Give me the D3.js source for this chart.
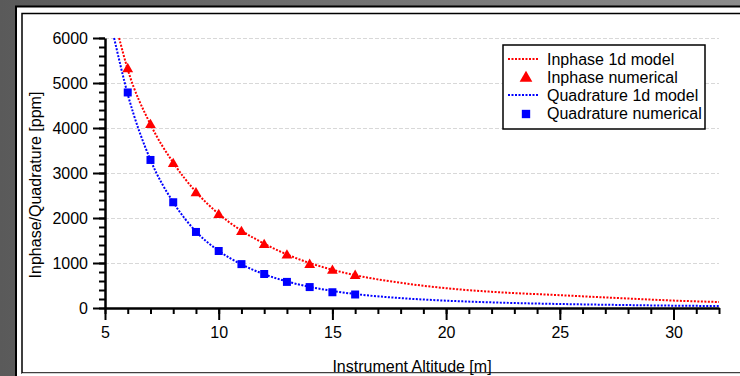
<!DOCTYPE html>
<html>
<head>
<meta charset="utf-8">
<script src="https://cdn.jsdelivr.net/npm/d3@7"></script>
<style>
  html, body { margin: 0; padding: 0; }
  body { width: 740px; height: 376px; overflow: hidden; }
  text { font-family: "Liberation Sans", Arial, sans-serif; fill: #000; }
</style>
</head>
<body>
<svg id="chart" width="740" height="376"></svg>
<script>
// measured points (altitude in m)
var numAlt = [6, 7, 8, 9, 10, 11, 12, 13, 14, 15, 16];
var inphaseNum = [5310, 4070, 3200, 2550, 2070, 1690, 1400, 1170, 960, 830, 715];
var quadNum = [4790, 3290, 2350, 1690, 1267, 975, 756, 580, 465, 350, 300];

// 1d model curves
var inphaseModelAlt = [5.62, 6, 7, 8, 9, 10, 11, 12, 13, 14, 15, 16, 18, 20, 22, 25, 28, 30, 32];
var inphaseModel = [6000, 5300, 4080, 3230, 2580, 2090, 1720, 1430, 1190, 1000, 850, 730, 560, 440, 360, 285, 210, 165, 133];
var quadModelAlt = [5.4, 6, 7, 8, 9, 10, 11, 12, 13, 14, 15, 16, 18, 20, 22, 25, 28, 30, 32];
var quadModel = [6000, 4750, 3290, 2350, 1700, 1270, 970, 750, 590, 470, 380, 310, 220, 163, 125, 89, 65, 52, 44];

var xTicks = [5, 10, 15, 20, 25, 30];
var yTicks = [0, 1000, 2000, 3000, 4000, 5000, 6000];

var legendItems = [
  { label: "Inphase 1d model", color: "#ff0000", type: "line" },
  { label: "Inphase numerical", color: "#ff0000", type: "triangle" },
  { label: "Quadrature 1d model", color: "#0000ff", type: "line" },
  { label: "Quadrature numerical", color: "#0000ff", type: "square" }
];

var svg = d3.select("#chart");

// window background + frame
var defs = svg.append("defs");
var grad = defs.append("linearGradient").attr("id", "bg").attr("x1", "0").attr("y1", "0").attr("x2", "1").attr("y2", "0");
grad.append("stop").attr("offset", "0").attr("stop-color", "#5a5a5a");
grad.append("stop").attr("offset", "1").attr("stop-color", "#8c8c8c");
svg.append("rect").attr("width", 740).attr("height", 376).attr("fill", "url(#bg)");
svg.append("rect").attr("x", 16).attr("y", 6.5).attr("width", 740).attr("height", 380)
  .attr("fill", "#fff").attr("stroke", "#000").attr("stroke-width", 2);
svg.append("rect").attr("x", 22).attr("y", 13.5).attr("width", 740).attr("height", 359.5)
  .attr("fill", "#fff").attr("stroke", "#000").attr("stroke-width", 1.5);
svg.append("line").attr("x1", 22).attr("x2", 740).attr("y1", 373.5).attr("y2", 373.5)
  .attr("stroke", "#d0d0d0").attr("stroke-width", 1);
svg.append("rect").attr("x", 22.75).attr("y", 374).attr("width", 740).attr("height", 2).attr("fill", "#fff");

var x = d3.scaleLinear().domain([5, 32]).range([105, 719]);
var y = d3.scaleLinear().domain([0, 6000]).range([308, 38]);

var g = svg.append("g");

// horizontal grid
g.append("g").selectAll("line")
  .data(yTicks.filter(function (d) { return d > 0; }))
  .enter().append("line")
  .attr("x1", x(5)).attr("x2", x(32))
  .attr("y1", function (d) { return Math.round(y(d)) + 0.5; })
  .attr("y2", function (d) { return Math.round(y(d)) + 0.5; })
  .attr("stroke", "#d8d8d8").attr("stroke-width", 1).attr("stroke-dasharray", "4,2");

// minor ticks
var xMinor = d3.range(5, 33, 1);
var yMinor = d3.range(0, 6001, 200);

g.append("g").attr("transform", "translate(0," + y(0) + ")")
  .call(d3.axisBottom(x).tickValues(xMinor).tickSize(6).tickFormat(""))
  .call(function (a) { a.select(".domain").remove(); a.selectAll("line").attr("stroke-width", 2); });
g.append("g").attr("transform", "translate(" + x(5) + ",0)")
  .call(d3.axisLeft(y).tickValues(yMinor).tickSize(6).tickFormat(""))
  .call(function (a) { a.select(".domain").remove(); a.selectAll("line").attr("stroke-width", 2); });

// major ticks + labels
var xAxis = g.append("g").attr("transform", "translate(0," + y(0) + ")")
  .call(d3.axisBottom(x).tickValues(xTicks).tickSize(12).tickPadding(7).tickSizeOuter(0).tickFormat(d3.format("d")));
xAxis.selectAll("line").attr("stroke-width", 2);
xAxis.select(".domain").attr("stroke-width", 2.5);
xAxis.selectAll("text").attr("font-size", "16px").style("font-family", "Liberation Sans, Arial, sans-serif");

var yAxis = g.append("g").attr("transform", "translate(" + x(5) + ",0)")
  .call(d3.axisLeft(y).tickValues(yTicks).tickSize(12).tickPadding(5).tickSizeOuter(0).tickFormat(d3.format("d")));
yAxis.selectAll("line").attr("stroke-width", 2);
yAxis.select(".domain").attr("stroke-width", 2.5);
yAxis.selectAll("text").attr("font-size", "16px").style("font-family", "Liberation Sans, Arial, sans-serif");

// axis titles
svg.append("text").attr("x", 412).attr("y", 372).attr("text-anchor", "middle")
  .attr("font-size", "16px").text("Instrument Altitude [m]");
svg.append("text").attr("transform", "translate(41,185) rotate(-90)")
  .attr("text-anchor", "middle").attr("font-size", "16px").text("Inphase/Quadrature [ppm]");

// model curves
var line = d3.line()
  .x(function (d) { return x(d.x); })
  .y(function (d) { return y(d.y); })
  .curve(d3.curveMonotoneX);

var inphaseLine = inphaseModelAlt.map(function (a, i) { return { x: a, y: inphaseModel[i] }; });
var quadLine = quadModelAlt.map(function (a, i) { return { x: a, y: quadModel[i] }; });

g.append("path").datum(inphaseLine).attr("d", line)
  .attr("fill", "none").attr("stroke", "#ff0000").attr("stroke-width", 2).attr("stroke-dasharray", "2,1.5");
g.append("path").datum(quadLine).attr("d", line)
  .attr("fill", "none").attr("stroke", "#0000ff").attr("stroke-width", 2).attr("stroke-dasharray", "2,1.5");

// numerical markers
var tri = d3.symbol().type(d3.symbolTriangle).size(50);
var sq = d3.symbol().type(d3.symbolSquare).size(64);

g.append("g").selectAll("path")
  .data(numAlt.map(function (a, i) { return { x: a, y: inphaseNum[i] }; }))
  .enter().append("path")
  .attr("d", tri)
  .attr("transform", function (d) { return "translate(" + x(d.x) + "," + y(d.y) + ")"; })
  .attr("fill", "#ff0000");

g.append("g").selectAll("path")
  .data(numAlt.map(function (a, i) { return { x: a, y: quadNum[i] }; }))
  .enter().append("path")
  .attr("d", sq)
  .attr("transform", function (d) { return "translate(" + x(d.x) + "," + y(d.y) + ")"; })
  .attr("fill", "#0000ff");

// legend
var legend = svg.append("g").attr("transform", "translate(503,45)");
legend.append("rect").attr("width", 202).attr("height", 84)
  .attr("fill", "#fff").attr("stroke", "#000").attr("stroke-width", 1.5);
var rows = legend.selectAll("g.row").data(legendItems).enter().append("g")
  .attr("class", "row")
  .attr("transform", function (d, i) { return "translate(0," + (14 + i * 18) + ")"; });
rows.append("text").attr("x", 44).attr("y", 6).attr("font-size", "16px").text(function (d) { return d.label; });
rows.filter(function (d) { return d.type === "line"; }).append("line")
  .attr("x1", 5).attr("x2", 35).attr("y1", 0).attr("y2", 0)
  .attr("stroke", function (d) { return d.color; }).attr("stroke-width", 2).attr("stroke-dasharray", "2,1.5");
rows.filter(function (d) { return d.type === "triangle"; }).append("path")
  .attr("d", d3.symbol().type(d3.symbolTriangle).size(70)).attr("transform", "translate(23,1)")
  .attr("fill", function (d) { return d.color; });
rows.filter(function (d) { return d.type === "square"; }).append("path")
  .attr("d", d3.symbol().type(d3.symbolSquare).size(70)).attr("transform", "translate(23,1)")
  .attr("fill", function (d) { return d.color; });
</script>
</body>
</html>
